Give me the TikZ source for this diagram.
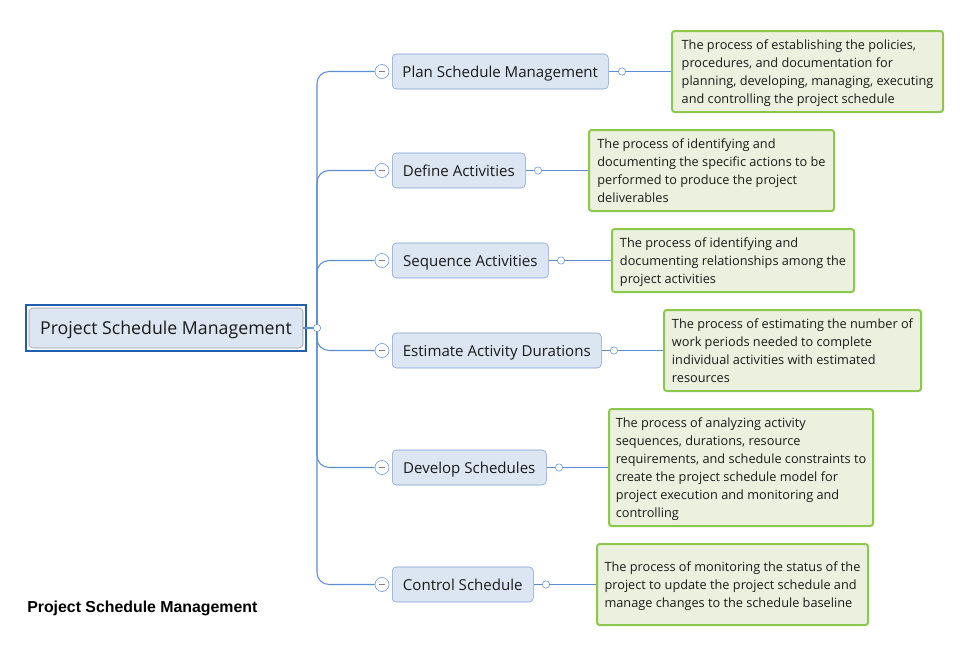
\documentclass[tikz,border=0pt]{standalone}
\usepackage{fontspec}
\setmainfont{Open Sans}
\newfontfamily\titlefont{Liberation Sans}
\usetikzlibrary{calc}
\definecolor{linkblue}{HTML}{5B8DD6}
\definecolor{topicfill}{HTML}{DCE6F2}
\definecolor{topicline}{HTML}{7E9FD0}
\definecolor{rootframe}{HTML}{1F5FAD}
\definecolor{notefill}{HTML}{EBF1DE}
\definecolor{noteline}{HTML}{8CC84B}
\definecolor{inktext}{HTML}{1A1A1A}

\begin{document}
\begin{tikzpicture}[x=0.75pt,y=-0.75pt]
        % Définition des styles
        \tikzset{
            rootbox/.style={rectangle, rounded corners=3pt, draw=gray!80, fill=topicfill,
                         minimum width=205.5pt, minimum height=30pt, inner sep=0pt, text depth=0pt,
                         text=inktext, font=\fontsize{13.3}{16}\selectfont},
            topicbox/.style={rectangle, rounded corners=3pt, draw=topicline, fill=topicfill,
                         minimum height=26.25pt, inner sep=0pt, anchor=west, text depth=0pt,
                         text=inktext, font=\fontsize{11.3}{14}\selectfont},
            notebox/.style={rectangle, rounded corners=2pt, draw=noteline, line width=1.5pt,
                         fill=notefill, align=left, inner sep=0pt, anchor=west, text depth=0pt,
                         text=inktext, font=\fontsize{9.55}{13.5}\selectfont},
            collapse/.style={circle, draw=linkblue, fill=white, minimum size=10.5pt, inner sep=0pt,
                         path picture={\draw[gray, line width=1.1pt]
                         ([xshift=-2.6pt]path picture bounding box.center) --
                         ([xshift=2.6pt]path picture bounding box.center);}},
            joint/.style={circle, draw=linkblue, fill=white, minimum size=5.5pt, inner sep=0pt},
            link/.style={draw=linkblue, line width=0.8pt}
        }
        \fill[white] (0,0) rectangle (971,653);
        \useasboundingbox (0,0) rectangle (971,653);

        % Sujet central
        \node[rootbox] (root) at (166,328) {Project Schedule Management};
        \draw[rootframe, line width=1.6pt] ($(root.south west)+(-3,3)$) rectangle ($(root.north east)+(3,-3)$);
        \node[joint] (rootdot) at (317,328) {};

        % Branches
        \node[topicbox, minimum width=162pt] (plan) at (392,71.5) {Plan Schedule Management};
        \node[topicbox, minimum width=99.75pt] (define) at (392,170.5) {Define Activities};
        \node[topicbox, minimum width=117pt] (sequence) at (392,260.5) {Sequence Activities};
        \node[topicbox, minimum width=156.75pt] (estimate) at (392,350.5) {Estimate Activity Durations};
        \node[topicbox, minimum width=115.5pt] (develop) at (392,467.5) {Develop Schedules};
        \node[topicbox, minimum width=105.75pt] (control) at (392,584.5) {Control Schedule};

        \node[collapse] (cplan) at (382,71.5) {};
        \node[collapse] (cdefine) at (382,170.5) {};
        \node[collapse] (csequence) at (382,260.5) {};
        \node[collapse] (cestimate) at (382,350.5) {};
        \node[collapse] (cdevelop) at (382,467.5) {};
        \node[collapse] (ccontrol) at (382,584.5) {};

        \node[joint] (dplan) at (622,71.5) {};
        \node[joint] (ddefine) at (538,170.5) {};
        \node[joint] (dsequence) at (561,260.5) {};
        \node[joint] (destimate) at (614,350.5) {};
        \node[joint] (ddevelop) at (559,467.5) {};
        \node[joint] (dcontrol) at (546,584.5) {};

        % Descriptions
        \node[notebox, minimum width=203.25pt, minimum height=60.75pt] (nplan) at (671,71.5)
            {The process of establishing the policies,\\procedures, and documentation for\\planning, developing, managing, executing\\and controlling the project schedule};
        \node[notebox, minimum width=183.75pt, minimum height=60.75pt] (ndefine) at (588,170.5)
            {The process of identifying and\\documenting the specific actions to be\\performed to produce the project\\deliverables};
        \node[notebox, minimum width=181.5pt, minimum height=47.25pt] (nsequence) at (611,260.5)
            {The process of identifying and\\documenting relationships among the\\project activities};
        \node[notebox, minimum width=192.75pt, minimum height=60.75pt] (nestimate) at (663,350.5)
            {The process of estimating the number of\\work periods needed to complete\\individual activities with estimated\\resources};
        \node[notebox, minimum width=198pt, minimum height=87.75pt] (ndevelop) at (608,467.5)
            {The process of analyzing activity\\sequences, durations, resource\\requirements, and schedule constraints to\\create the project schedule model for\\project execution and monitoring and\\controlling};
        \node[notebox, minimum width=203.25pt, minimum height=60.75pt] (ncontrol) at (596,584.5)
            {The process of monitoring the status of the\\project to update the project schedule and\\manage changes to the schedule baseline};

        % Connexions
        \draw[link] (root) -- (rootdot);
        \foreach \b in {plan,define,sequence,estimate,develop,control}{
            \draw[link, rounded corners=9pt] (rootdot) |- (c\b);
            \draw[link] (\b) -- (d\b);
            \draw[link] (d\b) -- (n\b);
        }

        % Titre
        \node[anchor=west, text=black, font=\titlefont\bfseries\fontsize{11.9}{13}\selectfont, inner sep=0pt]
            (title) at (27,608.5) {Project Schedule Management};
    \end{tikzpicture}
\end{document}
